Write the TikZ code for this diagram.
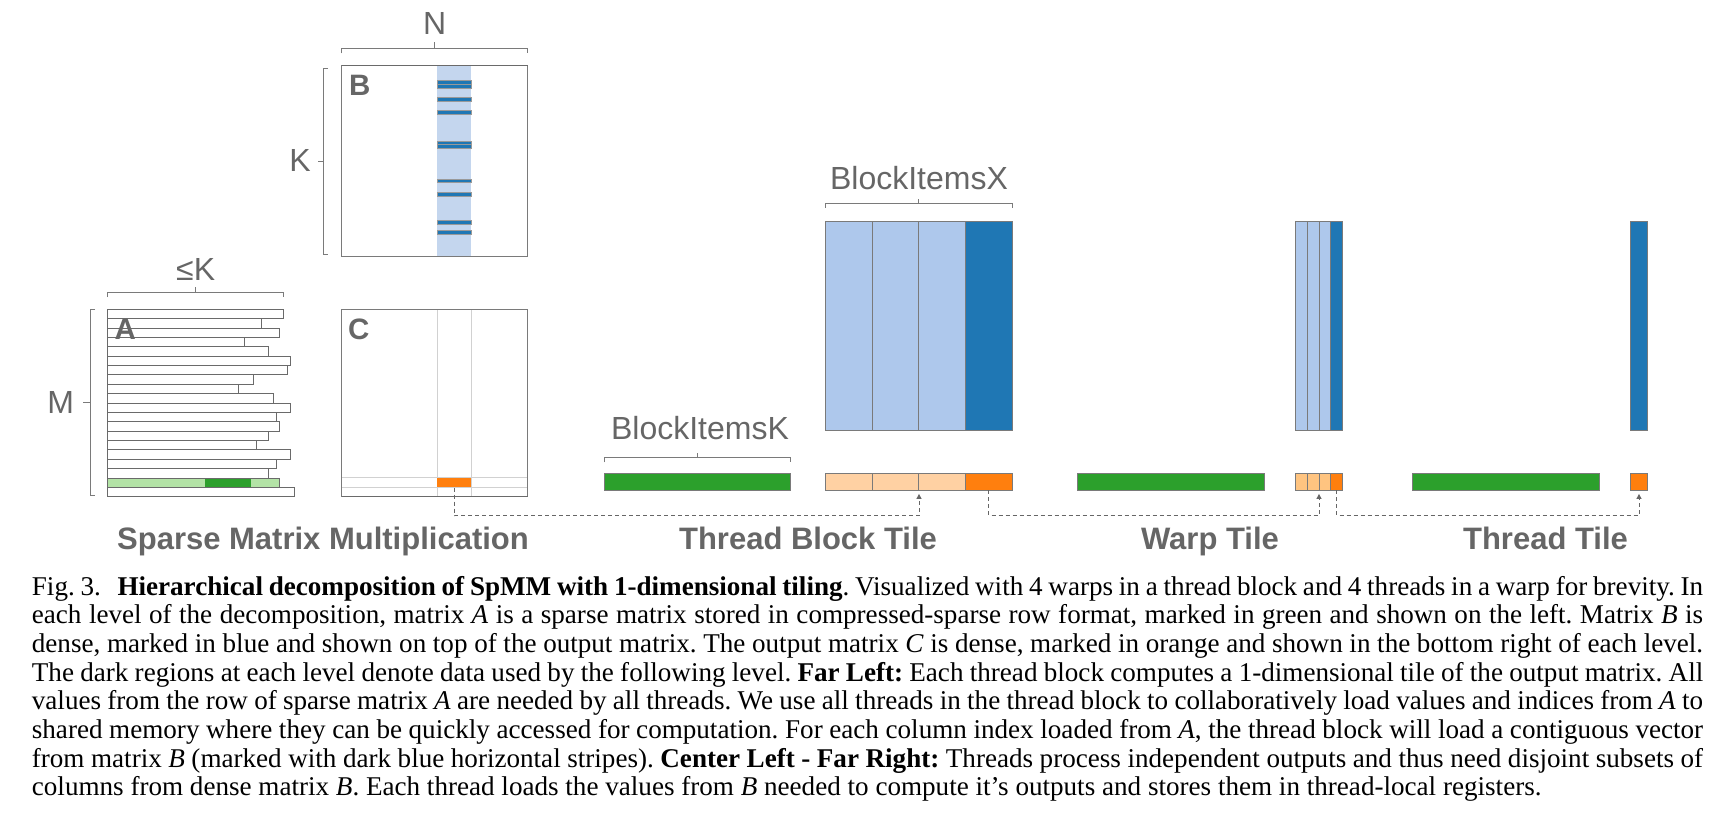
\documentclass[tikz,border=0pt]{standalone}
\usepackage{fontspec}
\setmainfont{Liberation Serif}
\newfontfamily\figfont{Liberation Sans}
\usetikzlibrary{arrows.meta}

\definecolor{txtgray}{HTML}{666666}
\definecolor{lingray}{HTML}{7A7A7A}
\definecolor{rowgray}{HTML}{6A6A6A}
\definecolor{ltblue}{HTML}{AEC8EC}
\definecolor{paleblue}{HTML}{C4D6EE}
\definecolor{dkblue}{HTML}{1F77B4}
\definecolor{ltgreen}{HTML}{B3E3A6}
\definecolor{dkgreen}{HTML}{2CA02C}
\definecolor{ltorange}{HTML}{FFD1A3}
\definecolor{midorange}{HTML}{FFC480}
\definecolor{dkorange}{HTML}{FF7F0E}

\newcommand{\capline}[1]{\makebox[\linewidth][s]{#1}\par}

\begin{document}
\begin{tikzpicture}[x=1pt, y=-1pt,
    brk/.style={draw=lingray, line width=1pt},
    dimlbl/.style={text=txtgray, font=\figfont\fontsize{32}{36}\selectfont, inner sep=0pt, anchor=base},
    letter/.style={text=txtgray, font=\figfont\bfseries\fontsize{29.5}{32}\selectfont, inner sep=0pt, anchor=base west},
    ttl/.style={text=txtgray, font=\figfont\bfseries\fontsize{31}{36}\selectfont, inner sep=0pt, anchor=base},
    cellbox/.style={draw=lingray, line width=0.8pt},
    rowbox/.style={draw=rowgray, line width=0.8pt},
    tile/.style={draw=lingray, line width=0.8pt, rectangle, inner sep=0pt, minimum height=16.7},
    stripe/.style={fill=dkblue, draw=gray!80, line width=0.6pt},
    faint/.style={draw=black!18, line width=0.8pt},
    flow/.style={draw=txtgray, line width=1pt, dash pattern=on 4pt off 3pt, -{Triangle[length=5pt,width=5pt]}, shorten >=3.5pt}]
    \useasboundingbox (0,0) rectangle (1718,818);

    % matrix B
    \fill[paleblue] (437,65.3) rectangle (471,256.7);
    \foreach \a/\b in {80.7/84.3, 84.3/88, 97.3/101, 110.3/114, 141.3/144.8, 144.8/148.3, 179/182.7, 192.7/196.3, 220.3/224, 230.3/234.3}
        \draw[stripe] (437,\a) rectangle (471,\b);
    \draw[cellbox] (341.7,65.3) rectangle (527.7,256.7);
    \draw[draw=rowgray, line width=1.2pt] (341.7,65.3) -- (527.7,65.3);
    \node[letter] (bLetter) at (348.8,96) {B};
    \draw[brk] (341.7,53.3) -- (341.7,49) -- (527.7,49) -- (527.7,53.3);
    \draw[brk] (434.7,49) -- (434.7,42.3);
    \node[dimlbl] (nLbl) at (434.7,35) {N};
    \draw[brk] (328,68.3) -- (323.3,68.3) -- (323.3,254.3) -- (328,254.3);
    \draw[brk] (323.3,161.3) -- (317.7,161.3);
    \node[dimlbl] (kLbl) at (300,171.7) {K};

    % matrix A
    \fill[ltgreen] (107.3,478) rectangle (279.3,487.3);
    \fill[dkgreen] (205,478) rectangle (250.7,487.3);
    \foreach \r [count=\i from 0] in {283.3,261.3,279.3,244.3,268.3,290,287.3,253.3,238.3,273.3,290,276.7,279.3,268.3,256.3,290,276.7,268.3,279.3,294.3}
        \draw[rowbox] (107.3,{309.3+\i*9.37}) rectangle (\r,{309.3+(\i+1)*9.37});
    \node[letter] (aLetter) at (114.5,339) {A};
    \draw[brk] (107.3,297) -- (107.3,292.7) -- (283.3,292.7) -- (283.3,297);
    \draw[brk] (195.7,292.7) -- (195.7,287.3);
    \node[dimlbl] (leKLbl) at (195.7,280) {≤K};
    \draw[brk] (95,309.3) -- (90,309.3) -- (90,495.3) -- (95,495.3);
    \draw[brk] (90,402.7) -- (83,402.7);
    \node[dimlbl] (mLbl) at (60.6,413.3) {M};

    % matrix C
    \draw[faint] (437,309.3) -- (437,496.7);
    \draw[faint] (471,309.3) -- (471,496.7);
    \draw[faint] (341.7,477.7) -- (527.7,477.7);
    \draw[faint] (341.7,487.3) -- (527.7,487.3);
    \draw[cellbox] (341.7,309.3) rectangle (527.7,496.7);
    \draw[draw=rowgray, line width=1.2pt] (341.7,496.7) -- (527.7,496.7);
    \node[tile, fill=dkorange, draw=none, minimum width=34, minimum height=9.6] (cOut) at (454,482.5) {};
    \node[letter] (cLetter) at (347.8,339.3) {C};

    % thread block tile
    \foreach \i in {0,1,2}
        \draw[cellbox, fill=ltblue] ({825.7+\i*46.43},221) rectangle ++(46.43,209);
    \draw[cellbox, fill=dkblue] (965,221) rectangle (1012.3,430);
    \draw[brk] (825.7,207.7) -- (825.7,203.3) -- (1012.3,203.3) -- (1012.3,207.7);
    \draw[brk] (918.3,203.3) -- (918.3,199);
    \node[dimlbl] (bixLbl) at (919,189.3) {BlockItemsX};
    \node[tile, fill=dkgreen, minimum width=186.4] (tbA) at (697.5,481.65) {};
    \draw[brk] (604.3,462.3) -- (604.3,457.7) -- (790.7,457.7) -- (790.7,462.3);
    \draw[brk] (697.3,457.7) -- (697.3,452.7);
    \node[dimlbl] (bikLbl) at (700,439.3) {BlockItemsK};
    \foreach \i in {0,1,2}
        \draw[cellbox, fill=ltorange] ({825.7+\i*46.43},473.3) rectangle ++(46.43,16.7);
    \node[tile, minimum width=186.6] (tbOut) at (919,481.65) {};
    \node[tile, fill=dkorange, minimum width=47.3] (tbDark) at (988.65,481.65) {};
    \node[ttl] (tbTtl) at (808,549) {Thread Block Tile};

    % warp tile
    \foreach \i in {0,1,2}
        \draw[cellbox, fill=ltblue] ({1295.3+\i*11.8},221) rectangle ++(11.8,209);
    \draw[cellbox, fill=dkblue] (1330.7,221) rectangle (1342.7,430);
    \node[tile, fill=dkgreen, minimum width=186.3] (wpA) at (1170.85,481.65) {};
    \foreach \i in {0,1,2}
        \draw[cellbox, fill=midorange] ({1295.3+\i*11.8},473.3) rectangle ++(11.8,16.7);
    \node[tile, minimum width=47.4] (wpOut) at (1319,481.65) {};
    \node[tile, fill=dkorange, minimum width=12] (wpDark) at (1336.7,481.65) {};
    \node[ttl] (wpTtl) at (1210,549) {Warp Tile};

    % thread tile
    \draw[cellbox, fill=dkblue] (1630.7,221) rectangle (1647.3,430);
    \node[tile, fill=dkgreen, minimum width=186.7] (thA) at (1505.65,481.65) {};
    \node[tile, fill=dkorange, minimum width=16.6] (thOut) at (1639,481.65) {};
    \node[ttl] (thTtl) at (1545.5,549) {Thread Tile};

    \node[ttl] (spTtl) at (323,549) {Sparse Matrix Multiplication};

    % dashed hand-offs
    \draw[flow] (cOut.south) -- ++(0,28) -| (tbOut.south);
    \draw[flow] (tbDark.south) -- ++(0,25) -| (wpOut.south);
    \draw[flow] (wpDark.south) -- ++(0,25) -| (thOut.south);

    % caption
    \node[anchor=base west, inner sep=0pt] (caption) at (31.7,595) {\parbox[t]{1671.3pt}{\fontsize{27.1}{28.7}\selectfont\frenchspacing
        \capline{Fig.~3.\hspace{0.4em} \textbf{Hierarchical decomposition of SpMM with 1-dimensional tiling}. Visualized with 4 warps in a thread block and 4 threads in a warp for brevity. In}
        \capline{each level of the decomposition, matrix \textit{A} is a sparse matrix stored in compressed-sparse row format, marked in green and shown on the left. Matrix \textit{B} is}
        \capline{dense, marked in blue and shown on top of the output matrix. The output matrix \textit{C} is dense, marked in orange and shown in the bottom right of each level.}
        \capline{The dark regions at each level denote data used by the following level. \textbf{Far Left:} Each thread block computes a 1-dimensional tile of the output matrix. All}
        \capline{values from the row of sparse matrix \textit{A} are needed by all threads. We use all threads in the thread block to collaboratively load values and indices from \textit{A} to}
        \capline{shared memory where they can be quickly accessed for computation. For each column index loaded from \textit{A}, the thread block will load a contiguous vector}
        \capline{from matrix \textit{B} (marked with dark blue horizontal stripes). \textbf{Center Left - Far Right:} Threads process independent outputs and thus need disjoint subsets of}
        columns from dense matrix \textit{B}. Each thread loads the values from \textit{B} needed to compute it's outputs and stores them in thread-local registers.}};
\end{tikzpicture}
\end{document}
